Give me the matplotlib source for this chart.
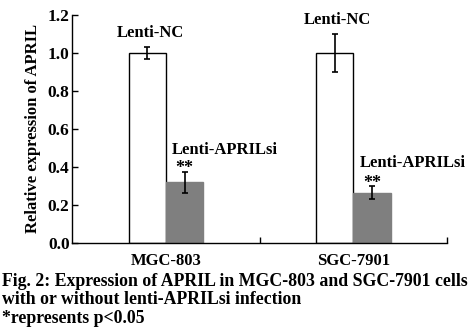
import matplotlib.pyplot as plt
import numpy as np

cells = ['MGC-803', 'SGC-7901']
nc_mean = [1.00, 1.00]
nc_err = [0.03, 0.10]
si_mean = [0.32, 0.265]
si_err = [0.055, 0.032]
yticks = [0.0, 0.2, 0.4, 0.6, 0.8, 1.0, 1.2]

caption = ['Fig. 2: Expression of APRIL in MGC-803 and SGC-7901 cells',
           'with or without lenti-APRILsi infection',
           '*represents p<0.05']

plt.rcParams['font.family'] = 'Liberation Serif'
plt.rcParams['font.weight'] = 'bold'


def main():
    fig = plt.figure(figsize=(4.76, 3.30), dpi=100)
    ax = fig.add_axes([0.152, 0.264, 0.787, 0.691])

    x = np.arange(len(cells))
    w = 0.2
    ekw = dict(ecolor='black', elinewidth=1.2, capsize=2, capthick=1.2)
    ax.bar(x - w / 2, nc_mean, w, yerr=nc_err, color='white', edgecolor='black',
           linewidth=1.0, error_kw=ekw)
    ax.bar(x + w / 2, si_mean, w, yerr=si_err, color='#7f7f7f', edgecolor='#7f7f7f',
           linewidth=1.0, error_kw=ekw)

    # labels for each bar group
    nc_label_y = [1.105, 1.174]
    si_label_y = [0.49, 0.42]
    star_y = [0.42, 0.34]
    for i in range(len(cells)):
        ax.text(x[i] - w / 2 + 0.015, nc_label_y[i], 'Lenti-NC',
                ha='center', va='center', fontsize=12, fontweight='bold')
        ax.text(x[i] + 0.033, si_label_y[i], 'Lenti-APRILsi', ha='left', va='center',
                fontsize=12, fontweight='bold')
        ax.text(x[i] + w / 2, star_y[i] - 0.03, '**', ha='center', va='center',
                fontsize=13, fontweight='bold')

    ax.set_xlim(-0.5, 1.5)
    ax.set_ylim(0, 1.2)
    ax.set_yticks(yticks)
    ax.set_yticklabels(['%.1f' % v for v in yticks], fontsize=12.5, fontweight='bold')
    ax.set_xticks(x)
    ax.set_xticklabels(cells, fontsize=12, fontweight='bold')
    ax.set_xticks([0.5, 1.5], minor=True)
    ax.tick_params(axis='x', which='major', length=0, pad=7)
    ax.tick_params(axis='x', which='minor', direction='in', length=4, width=1)
    ax.tick_params(axis='y', direction='in', length=4, width=1, pad=2)
    ax.spines['top'].set_visible(False)
    ax.spines['right'].set_visible(False)
    ax.spines['left'].set_linewidth(1.0)
    ax.spines['bottom'].set_linewidth(1.0)
    ax.set_ylabel('Relative expression of APRIL', fontsize=12, fontweight='bold', labelpad=5)

    ys = [0.1455, 0.091, 0.036]
    for line, y in zip(caption, ys):
        fig.text(0.004, y, line, ha='left', va='center', fontsize=12.8, fontweight='bold')

    fig.savefig('out.png', dpi=100)


if __name__ == '__main__':
    main()
